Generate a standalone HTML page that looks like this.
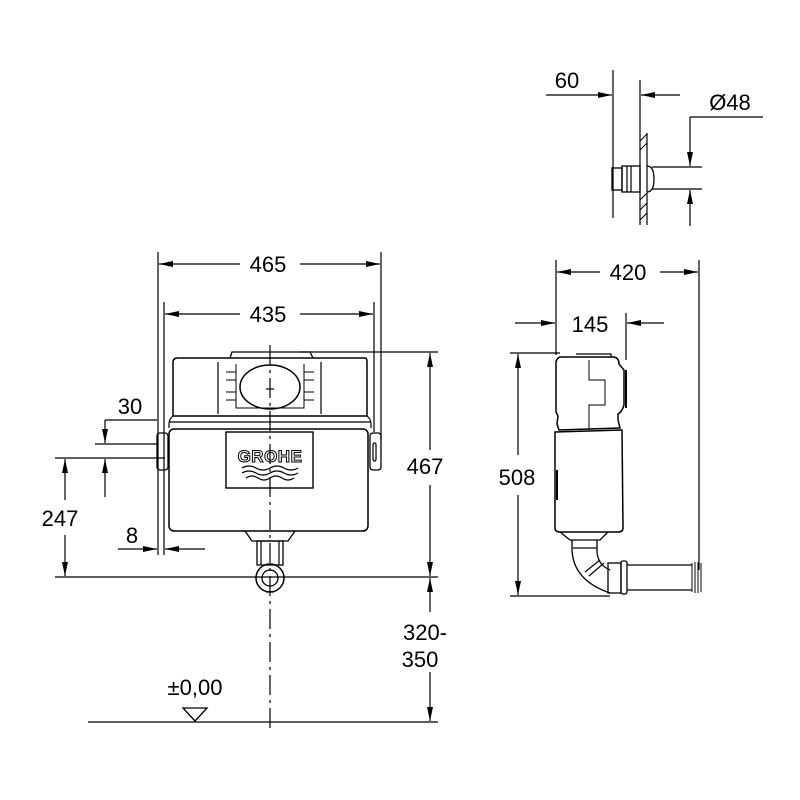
<!DOCTYPE html>
<html><head><meta charset="utf-8"><style>html,body{margin:0;padding:0;background:#fff}svg{display:block}</style></head>
<body>
<svg width="800" height="800" viewBox="0 0 800 800" xmlns="http://www.w3.org/2000/svg" font-family="Liberation Sans, Arial, sans-serif" font-size="22" fill="none" stroke="#000" stroke-width="1.2">
<defs>
<marker id="a" viewBox="0 0 14 8" refX="14" refY="4" markerWidth="14" markerHeight="8" markerUnits="userSpaceOnUse" orient="auto"><path d="M0,1 L14,4 L0,7 Z" fill="#000" stroke="none"/></marker>
</defs>

<!-- ========== FRONT VIEW ========== -->
<!-- extension lines -->
<line x1="158" y1="252" x2="158" y2="555"/>
<line x1="164" y1="302" x2="164" y2="555"/>
<line x1="381" y1="252" x2="381" y2="440"/>
<line x1="374" y1="302" x2="374" y2="432"/>
<!-- 465 -->
<line x1="240" y1="264" x2="159" y2="264" marker-end="url(#a)"/>
<line x1="300" y1="264" x2="380" y2="264" marker-end="url(#a)"/>
<text x="268" y="272" text-anchor="middle" fill="#000" stroke="none">465</text>
<!-- 435 -->
<line x1="240" y1="314" x2="165" y2="314" marker-end="url(#a)"/>
<line x1="300" y1="314" x2="373" y2="314" marker-end="url(#a)"/>
<text x="268" y="322" text-anchor="middle" fill="#000" stroke="none">435</text>

<!-- tank top -->
<path d="M178,358 L365,358 Q367,358 367,362 L367,416 L173,416 L173,362 Q173,358 178,358 Z" stroke-width="1.5"/>
<line x1="169" y1="422" x2="370" y2="422" stroke-width="1.3"/>
<path d="M173,416 Q169,419 169,424 L169,428 M367,416 Q371,419 371,424 L371,428" />
<!-- frame top -->
<path d="M230,358 L232,352 L310,352 L313,358" stroke-width="1.3"/>
<line x1="218" y1="362" x2="218" y2="414"/>
<line x1="321" y1="362" x2="321" y2="414"/>
<path d="M236,364 L236,408 L304,408 L304,364" stroke-width="1"/>
<path d="M226,372 L236,372 M226,380 L236,380 M226,392 L236,392 M226,400 L236,400 M304,372 L314,372 M304,380 L314,380 M304,392 L314,392 M304,400 L314,400" stroke-width="1"/>
<ellipse cx="270" cy="387" rx="30" ry="22" stroke-width="1.5"/>
<line x1="266" y1="389" x2="274" y2="389"/>
<!-- tank body -->
<rect x="169" y="429" width="199" height="102" rx="5" stroke-width="1.5"/>
<!-- lugs -->
<rect x="157" y="433" width="11" height="37" rx="3" stroke-width="1.3"/>
<rect x="370" y="433" width="11" height="37" rx="3" stroke-width="1.3"/>
<rect x="373" y="443" width="3" height="18" rx="1.5"/>
<!-- logo -->
<rect x="226" y="432" width="87" height="56" stroke-width="1.4"/>
<text x="270" y="462" text-anchor="middle" font-size="17" font-weight="bold" fill="#fff" stroke="#000" stroke-width="1" letter-spacing="0.5">GROHE</text>
<path d="M242,468 q7,-4 14,0 t14,0 t14,0 t14,0 M242,473 q7,-4 14,0 t14,0 t14,0 t14,0 M246,478 q6,-4 12,0 t12,0 t12,0 t12,0" stroke-width="1.2"/>
<!-- outlet -->
<path d="M245,531 L252,541 L288,541 L295,531" stroke-width="1.3"/>
<rect x="257" y="541" width="26" height="24" stroke-width="1.3"/>
<line x1="261" y1="541" x2="261" y2="565"/>
<line x1="279" y1="541" x2="279" y2="565"/>
<circle cx="270" cy="578" r="14" stroke-width="1.5"/>
<circle cx="270" cy="578" r="8" stroke-width="1.3"/>
<line x1="266" y1="592" x2="274" y2="592"/>
<!-- centerline -->
<line x1="270" y1="345" x2="270" y2="732" stroke-dasharray="20,5,3,5"/>

<!-- 467 / floor lines -->
<line x1="300" y1="352" x2="438" y2="352"/>
<line x1="55" y1="577" x2="438" y2="577"/>
<line x1="88" y1="722" x2="438" y2="722"/>
<line x1="430" y1="450" x2="430" y2="353" marker-end="url(#a)"/>
<line x1="430" y1="485" x2="430" y2="576" marker-end="url(#a)"/>
<text x="425" y="474" text-anchor="middle" fill="#000" stroke="none">467</text>
<!-- 320-350 -->
<line x1="430" y1="612" x2="430" y2="578" marker-end="url(#a)"/>
<line x1="430" y1="672" x2="430" y2="721" marker-end="url(#a)"/>
<text x="425" y="640" text-anchor="middle" fill="#000" stroke="none">320-</text>
<text x="420" y="667" text-anchor="middle" fill="#000" stroke="none">350</text>
<!-- ±0,00 -->
<text x="195" y="695" text-anchor="middle" fill="#000" stroke="none">±0,00</text>
<path d="M183,708 L207,708 L195,721 Z" stroke-width="1.3"/>

<!-- 247 -->
<line x1="55" y1="458" x2="165" y2="458"/>
<line x1="65" y1="500" x2="65" y2="459" marker-end="url(#a)"/>
<line x1="65" y1="535" x2="65" y2="576" marker-end="url(#a)"/>
<text x="60" y="526" text-anchor="middle" fill="#000" stroke="none">247</text>
<!-- 30 -->
<line x1="105" y1="420" x2="157" y2="420"/>
<line x1="95" y1="444" x2="157" y2="444"/>
<line x1="105" y1="420" x2="105" y2="443" marker-end="url(#a)"/>
<line x1="105" y1="497" x2="105" y2="459" marker-end="url(#a)"/>
<text x="130" y="414" text-anchor="middle" fill="#000" stroke="none">30</text>
<!-- 8 -->
<line x1="118" y1="549" x2="157" y2="549" marker-end="url(#a)"/>
<line x1="205" y1="549" x2="165" y2="549" marker-end="url(#a)"/>
<text x="132" y="543" text-anchor="middle" fill="#000" stroke="none">8</text>

<!-- ========== SIDE VIEW ========== -->
<line x1="556" y1="260" x2="556" y2="355"/>
<line x1="699" y1="260" x2="699" y2="570"/>
<line x1="626" y1="313" x2="626" y2="360"/>
<!-- 420 -->
<line x1="600" y1="272" x2="557" y2="272" marker-end="url(#a)"/>
<line x1="660" y1="272" x2="698" y2="272" marker-end="url(#a)"/>
<text x="628" y="280" text-anchor="middle" fill="#000" stroke="none">420</text>
<!-- 145 -->
<line x1="515" y1="323" x2="555" y2="323" marker-end="url(#a)"/>
<line x1="664" y1="323" x2="627" y2="323" marker-end="url(#a)"/>
<text x="590" y="332" text-anchor="middle" fill="#000" stroke="none">145</text>
<!-- 508 -->
<line x1="510" y1="353" x2="560" y2="353"/>
<line x1="510" y1="596" x2="610" y2="596"/>
<line x1="518" y1="455" x2="518" y2="354" marker-end="url(#a)"/>
<line x1="518" y1="495" x2="518" y2="595" marker-end="url(#a)"/>
<text x="517" y="485" text-anchor="middle" fill="#000" stroke="none">508</text>
<!-- body -->
<path d="M560,357 L614,357 Q619,358 619,364 L624,370 L624,405 Q622,412 618,414 L618,420 L620,428 L559,430 L557,424 L558,416 L556,412 L556,362 Q557,358 560,357 Z" stroke-width="1.5"/>
<path d="M576,354 L611,354 L611,357" stroke-width="1.3"/>
<path d="M589,360 L589,380 L605,380 L605,405 L589,405 L589,430" stroke-width="1"/>
<path d="M626,370 L626,408" stroke-width="2"/>
<path d="M555,432 L622,430 L623,528 Q623,532 618,532 L560,532 Q555,532 555,528 Z" stroke-width="1.5"/>
<path d="M557,470 L557,500" stroke-width="2"/>
<path d="M560,532 L570,540 L600,540 L608,532" stroke-width="1.3"/>
<!-- elbow -->
<path d="M572,540 L572,548 Q572,580 610,593" stroke-width="1.3"/>
<path d="M597,540 L597,552 Q598,565 610,570" stroke-width="1.3"/>
<line x1="573" y1="548" x2="597" y2="548"/>
<line x1="585" y1="572" x2="600" y2="560"/>
<line x1="589" y1="576" x2="604" y2="563"/>
<rect x="608" y="563" width="13" height="30" stroke-width="1.3"/>
<rect x="621" y="561" width="6" height="33" rx="2" stroke-width="1.3"/>
<line x1="627" y1="565" x2="692" y2="565" stroke-width="1.3"/>
<line x1="627" y1="590" x2="692" y2="590" stroke-width="1.3"/>
<path d="M692,563 L692,592 M695,562 L695,593 M698,562 L698,593 M701,563 L701,592" stroke-width="1"/>

<!-- ========== DETAIL TOP RIGHT ========== -->
<line x1="613" y1="70" x2="613" y2="218"/>
<line x1="640" y1="80" x2="640" y2="225"/>
<line x1="546" y1="95" x2="612" y2="95" marker-end="url(#a)"/>
<line x1="680" y1="95" x2="641" y2="95" marker-end="url(#a)"/>
<text x="567" y="88" text-anchor="middle" fill="#000" stroke="none">60</text>
<!-- wall -->
<line x1="647" y1="133" x2="647" y2="225"/>
<path d="M640,141 L647,134 M640,150 L647,143 M640,200 L647,193 M640,210 L647,203 M640,220 L647,213" stroke-width="1"/>
<!-- fitting -->
<rect x="612" y="168" width="10" height="22" stroke-width="1.3"/>
<rect x="622" y="166" width="18" height="26" stroke-width="1.3"/>
<line x1="627" y1="166" x2="627" y2="192"/>
<line x1="631" y1="166" x2="631" y2="192"/>
<path d="M647,166 Q654,166 654,179 Q654,192 647,192" stroke-width="1.3"/>
<line x1="652" y1="167" x2="702" y2="167"/>
<line x1="652" y1="189" x2="702" y2="189"/>
<!-- Ø48 -->
<line x1="763" y1="117" x2="690" y2="117"/>
<line x1="690" y1="117" x2="690" y2="166" marker-end="url(#a)"/>
<line x1="690" y1="226" x2="690" y2="190" marker-end="url(#a)"/>
<text x="730" y="110" text-anchor="middle" fill="#000" stroke="none">Ø48</text>
</svg>
</body></html>
